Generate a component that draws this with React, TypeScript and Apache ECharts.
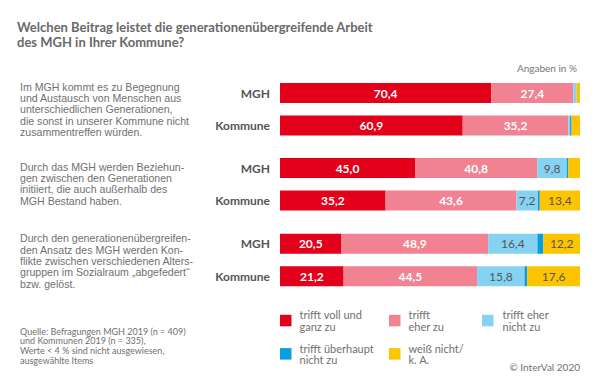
import React, { useEffect, useRef } from "react";
import * as echarts from "echarts";

const categories = ["MGH", "Kommune"];
const answerNames = [
  "trifft voll und\nganz zu",
  "trifft\neher zu",
  "trifft eher\nnicht zu",
  "trifft überhaupt\nnicht zu",
  "weiß nicht/\nk. A.",
];
const answerColors = ["#e2001a", "#f08292", "#86d2f2", "#0a9ee0", "#fdc400"];

// values per statement: [answer][MGH, Kommune]
const statement1 = [
  [70.4, 60.9],
  [27.4, 35.2],
  [1.1, 0.6],
  [0, 0.5],
  [1.1, 2.8],
];
const statement2 = [
  [45.0, 35.2],
  [40.8, 43.6],
  [9.8, 7.2],
  [0.5, 0.6],
  [3.9, 13.4],
];
const statement3 = [
  [20.5, 21.2],
  [48.9, 44.5],
  [16.4, 15.8],
  [2.0, 0.9],
  [12.2, 17.6],
];
const statements = [statement1, statement2, statement3];

const statementLines = [
  [
    "Im MGH kommt es zu Begegnung",
    "und Austausch von Menschen aus",
    "unterschiedlichen Generationen,",
    "die sonst in unserer Kommune nicht",
    "zusammentreffen würden.",
  ],
  [
    "Durch das MGH werden Beziehun-",
    "gen zwischen den Generationen",
    "initiiert, die auch außerhalb des",
    "MGH Bestand haben.",
  ],
  [
    "Durch den generationenübergreifen-",
    "den Ansatz des MGH werden Kon-",
    "flikte zwischen verschiedenen Alters-",
    "gruppen im Sozialraum „abgefedert“",
    "bzw. gelöst.",
  ],
];

const titleLines = [
  "Welchen Beitrag leistet die generationenübergreifende Arbeit",
  "des MGH in Ihrer Kommune?",
];
const sourceLines = [
  "Quelle: Befragungen MGH 2019 (n = 409)",
  "und Kommunen 2019 (n = 335),",
  "Werte < 4 % sind nicht ausgewiesen,",
  "ausgewählte Items",
];
const unitText = "Angaben in %";
const copyrightText = "© InterVal 2020";

const FONT = "Lato, 'Open Sans', sans-serif";
const BODY_FONT = "'Liberation Sans', Arial, sans-serif";
const TEXT_GRAY = "#707070";

export default function App() {
  const ref = useRef<HTMLDivElement>(null);

  useEffect(() => {
    if (!ref.current) return;
    const chart = echarts.init(ref.current, undefined, { renderer: "svg" });

    const gridTops = [76.75, 151.75, 227.5];
    const grids = gridTops.map((t) => ({ left: 280, width: 300, top: t, height: 65 }));
    const xAxes = gridTops.map((_, i) => ({
      type: "value",
      gridIndex: i,
      min: 0,
      max: 100,
      show: false,
    }));
    const yAxes = gridTops.map((_, i) => ({
      type: "category",
      gridIndex: i,
      data: categories,
      inverse: true,
      axisLine: { show: false },
      axisTick: { show: false },
      axisLabel: {
        margin: 10,
        fontFamily: FONT,
        fontSize: 12,
        fontWeight: "bold",
        color: "#555555",
      },
    }));

    const series: any[] = [];
    statements.forEach((st, g) => {
      st.forEach((vals, k) => {
        series.push({
          type: "bar",
          name: answerNames[k],
          stack: "s" + g,
          xAxisIndex: g,
          yAxisIndex: g,
          barWidth: 20,
          data: vals,
          itemStyle: { color: answerColors[k] },
          label: {
            show: true,
            position: "inside",
            fontFamily: FONT,
            fontSize: 12,
            fontWeight: k < 2 ? "bold" : "normal",
            color: k < 2 ? "#ffffff" : "#555555",
            formatter: (p: any) => (p.value >= 4 ? p.value.toFixed(1).replace(".", ",") : ""),
          },
        });
      });
    });

    const legendPos = [
      { left: 280, top: 303 },
      { left: 389, top: 303 },
      { left: 482, top: 303 },
      { left: 280, top: 336.3 },
      { left: 389, top: 336.3 },
    ];
    const legends = answerNames.map((n, i) => ({
      data: [n],
      left: legendPos[i].left,
      top: legendPos[i].top,
      padding: 0,
      icon: "rect",
      itemWidth: 11.5,
      itemHeight: 11.5,
      selectedMode: false,
      textStyle: {
        fontFamily: FONT,
        fontSize: 11,
        lineHeight: 11.7,
        color: TEXT_GRAY,
        padding: [11.7, 0, 0, i === 2 ? 4 : 3],
      },
    }));

    const lineText = (
      text: string,
      x: number,
      y: number,
      size: number,
      opts: any = {}
    ) => ({
      type: "text",
      x,
      y,
      style: {
        text,
        fontFamily: FONT,
        fontSize: size,
        fill: TEXT_GRAY,
        verticalAlign: "middle",
        ...opts,
      },
    });

    const graphic: any[] = [];
    titleLines.forEach((t, i) => {
      graphic.push(lineText(t, 17, 26.7 + i * 15, 13, { fontWeight: "bold", fill: "#696969" }));
    });
    graphic.push(lineText(unitText, 577, 68.3, 10, { align: "right", fill: "#777777" }));
    graphic.push(lineText(copyrightText, 580, 366.7, 10, { align: "right" }));
    sourceLines.forEach((t, i) => {
      graphic.push(lineText(t, 20, 331 + i * 9.9, 9));
    });
    const stStarts = [86.7, 166.7, 238.3];
    statementLines.forEach((lines, s) => {
      lines.forEach((t, i) => {
        graphic.push(lineText(t, 20, stStarts[s] + i * 11.3, 10.6, { fontFamily: BODY_FONT }));
      });
    });

    chart.setOption({
      animation: false,
      backgroundColor: "#ffffff",
      grid: grids,
      xAxis: xAxes,
      yAxis: yAxes,
      legend: legends,
      series,
      graphic,
    });

    return () => chart.dispose();
  }, []);

  return <div ref={ref} style={{ width: 600, height: 390, position: "absolute", left: 0, top: 0 }} />;
}
